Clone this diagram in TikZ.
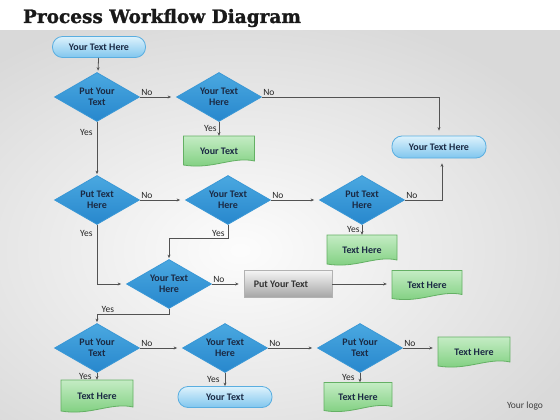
\documentclass[tikz,border=0pt]{standalone}
\usepackage{fontspec}
\setmainfont{Carlito}
\newfontfamily\titlefont[BoldFeatures={FakeBold=1.3}]{DejaVu Serif}
\usetikzlibrary{shapes.geometric,arrows.meta,calc,backgrounds}
\pgfdeclarelayer{back}
\pgfsetlayers{back,background,main}
\definecolor{linec}{HTML}{525252}
\definecolor{txt}{HTML}{1B2A44}
\definecolor{dtop}{HTML}{4AA8E0}
\definecolor{dmid}{HTML}{86CFF3}
\definecolor{dbot}{HTML}{2787CD}
\definecolor{dbord}{HTML}{3A98D6}
\definecolor{ttop}{HTML}{DDF2FC}
\definecolor{tbot}{HTML}{80C6EE}
\definecolor{tbord}{HTML}{5AAEE0}
\definecolor{gtop}{HTML}{C4ECC4}
\definecolor{gbot}{HTML}{7ACD7A}
\definecolor{gbord}{HTML}{64B064}
\definecolor{graytop}{HTML}{F5F5F5}
\definecolor{graybot}{HTML}{A4A4A4}
\tikzset{
  x=1pt, y=-1pt,
  dec/.style={diamond, draw=dbord, line width=0.8pt, top color=dtop, middle color=dmid, bottom color=dbot,
    minimum width=85pt, minimum height=49pt, inner sep=0pt, aspect=1.7,
    font=\bfseries\fontsize{10}{11.5}\selectfont, text=txt, align=center},
  term/.style={rectangle, rounded corners=10pt, draw=tbord, line width=0.8pt, top color=ttop, bottom color=tbot,
    minimum width=93pt, minimum height=21pt, inner sep=0pt,
    font=\bfseries\fontsize{10}{11.5}\selectfont, text=txt},
  gtext/.style={inner sep=0pt, font=\bfseries\fontsize{10}{11.5}\selectfont, text=txt},
  gshade/.style={draw=gbord, line width=0.8pt, top color=gtop, bottom color=gbot},
  graybox/.style={rectangle, draw=gray!60, line width=0.6pt, top color=graytop, bottom color=graybot,
    minimum width=88pt, minimum height=27pt, inner sep=0pt,
    font=\bfseries\fontsize{10}{11.5}\selectfont, text=black!80},
  conn/.style={draw=linec, line width=0.8pt, -{Stealth[length=3.5pt,width=3pt]}},
  lab/.style={font=\fontsize{9.5}{11}\selectfont, text=black!85, inner sep=1pt},
}
% green document shape: name, cx, cy, w, h, text
\newcommand\gdoc[6]{%
  \node[gtext, minimum width=#4pt, minimum height=#5pt] (#1) at (#2,#3) {#6};
  \begin{scope}[on background layer]
    \path[gshade] (#2-#4/2,#3-#5/2) -- (#2+#4/2,#3-#5/2) -- (#2+#4/2,#3+#5/2-5)
      .. controls (#2+#4/2-0.3*#4,#3+#5/2-10) and (#2-#4/2+0.4*#4,#3+#5/2+4) .. (#2-#4/2,#3+#5/2-1) -- cycle;
  \end{scope}}
\begin{document}
\begin{tikzpicture}
\useasboundingbox (0,0) rectangle (560,420);
\begin{pgfonlayer}{back}
  \begin{scope}
    \clip (0,0) rectangle (560,420);
    \fill[white] (0,0) rectangle (560,420);
    \shade[inner color=white!98!gray, outer color=black!15] (-140,0) rectangle (620,500);
    \fill[white] (0,0) rectangle (560,30);
  \end{scope}
\end{pgfonlayer}
\node[font=\titlefont\bfseries\fontsize{18.5}{21}\selectfont, text=black!90, anchor=base] (title) at (162,23) {Process Workflow Diagram};

% row 1
\node[term] (start) at (99,47) {Your Text Here};
\node[dec] (d1) at (97,97) {Put Your\\Text};
\node[dec] (d2) at (219,97) {Your Text\\Here};
\gdoc{g1}{219}{151}{71}{30}{Your Text}
\node[term, minimum width=94pt, minimum height=22pt] (t2) at (439,147) {Your Text Here};
% row 2
\node[dec] (d3) at (97,200) {Put Text\\Here};
\node[dec] (d4) at (228,200) {Your Text\\Here};
\node[dec] (d5) at (362,200) {Put Text\\Here};
\gdoc{g2}{362}{250}{70}{30}{Text Here}
% row 3
\node[dec] (d6) at (169,284) {Your Text\\Here};
\node[graybox] (gb) at (288,284) {\hspace*{-14pt}Put Your Text};
\gdoc{g3}{427}{285}{70}{29}{Text Here}
% row 4
\node[dec] (d7) at (97,348) {Put Your\\Text};
\node[dec] (d8) at (225,348) {Your Text\\Here};
\node[dec] (d9) at (360,348) {Put Your\\Text};
\gdoc{g4}{97}{396}{72}{32}{Text Here}
\node[term, minimum width=94pt, minimum height=21pt] (tt) at (225,397) {Your Text};
\gdoc{g5}{358}{397}{68}{29}{Text Here}
\gdoc{g6}{474}{352}{72}{30}{Text Here}

\node[font=\fontsize{9.5}{11}\selectfont, text=black!75] (logo) at (525,406) {Your logo};

% connectors
\draw[conn, shorten >=2pt] (start) -- (d1);
\draw[conn, shorten >=5pt] (d1.east) -- node[lab, pos=0, above right] {No} (d2.west);
\draw[conn, shorten >=5pt] (d2.east) -- node[lab, pos=0, above right] {No} (d2.east -| t2.north) -- (t2.north);
\draw[conn] (d2.south) -- node[lab, left, xshift=-1pt] {Yes} (g1.north);
\draw[conn, shorten >=1pt] (d1.south) -- node[lab, pos=0.2, left, xshift=-3pt] {Yes} (d3.north);
\draw[conn, shorten >=5pt] (d3.east) -- node[lab, pos=0, above right] {No} (d4.west);
\draw[conn, shorten >=5pt] (d4.east) -- node[lab, pos=0, above right] {No} (d5.west);
\coordinate (t2s) at ([xshift=3pt]t2.south);
\draw[conn, shorten >=5pt] (d5.east) -- node[lab, pos=0, above right] {No} (d5.east -| t2s) -- (t2s);
\draw[conn] (d5.south) -- node[lab, left, xshift=-1pt] {Yes} (g2.north);
\coordinate (c4) at ([yshift=-13pt]d4.south);
\draw[conn, shorten >=1pt] (d4.south) -- (c4) node[lab, above left, pos=1, xshift=-2pt] {Yes} -- (c4 -| d6.north) -- (d6.north);
\draw[conn, shorten >=5pt] (d3.south) -- node[lab, pos=0.15, left, xshift=-3pt] {Yes} (d3.south |- d6.west) -- (d6.west);
\draw[conn, shorten >=5pt] (d6.east) -- node[lab, pos=0, above right] {No} (gb.west);
\draw[conn, shorten >=5pt] (gb.east) -- (gb.east -| g3.west);
\coordinate (c6) at ([yshift=-5pt]d6.south);
\draw[conn, shorten >=1pt] (d6.south) -- (c6) -- node[lab, pos=0.85, above] {Yes} (c6 -| d7.north) -- (d7.north);
\draw[conn, shorten >=5pt] (d7.east) -- node[lab, pos=0, above right] {No} (d8.west);
\draw[conn, shorten >=5pt] (d8.east) -- node[lab, pos=0, above right] {No} (d9.west);
\draw[conn, shorten >=5pt] (d9.east) -- node[lab, pos=0, above right] {No} (d9.east -| g6.west);
\draw[conn] (d7.south) -- node[lab, left, xshift=-4pt] {Yes} (d7.south |- g4.north);
\draw[conn] (d8.south) -- node[lab, left, xshift=-4pt] {Yes} (d8.south |- tt.north);
\draw[conn] (d9.south) -- node[lab, left, xshift=-4pt] {Yes} (d9.south |- g5.north);
\end{tikzpicture}
\end{document}
